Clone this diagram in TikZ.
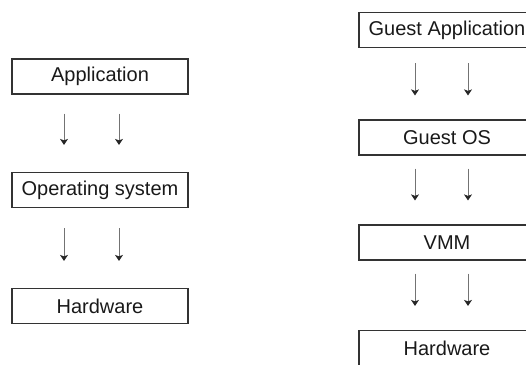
\documentclass[tikz,border=0pt]{standalone}
\usepackage{fontspec}
\setmainfont{Liberation Sans}
\usetikzlibrary{arrows.meta,calc}
\begin{document}
\begin{tikzpicture}[x=1pt,y=-1pt,
  layerbox/.style={draw=black!80,line width=1.2pt,minimum width=176pt,minimum height=35pt,inner sep=0pt,
    font=\fontsize{20}{24}\selectfont,text=black!90},
  arr/.style={draw=black!55,line width=0.9pt,-{Stealth[length=6pt,width=8pt,inset=1.5pt,black!85]}}]
\useasboundingbox (0,0) rectangle (526,364);
\clip (0,0) rectangle (526,364);
% left stack
\node[layerbox] (app) at (100,76.5) {Application};
\node[layerbox] (os) at (100,190) {Operating system};
\node[layerbox] (hw) at (100,306) {Hardware};
% right stack
\node[layerbox] (gapp) at (447,30) {Guest Application};
\node[layerbox] (gos) at (447,137.5) {Guest OS};
\node[layerbox] (vmm) at (447,242.5) {VMM};
\node[layerbox] (rhw) at (447,348) {Hardware};
% left arrows
\foreach \dx in {-36,19}{
  \draw[arr] ([xshift=\dx pt,yshift=-19pt]app.south) -- ([xshift=\dx pt,yshift=27pt]os.north);
  \draw[arr] ([xshift=\dx pt,yshift=-20pt]os.south) -- ([xshift=\dx pt,yshift=27pt]hw.north);
}
% right arrows
\foreach \dx in {-32,21}{
  \draw[arr] ([xshift=\dx pt,yshift=-15pt]gapp.south) -- ([xshift=\dx pt,yshift=24pt]gos.north);
  \draw[arr] ([xshift=\dx pt,yshift=-13pt]gos.south) -- ([xshift=\dx pt,yshift=24pt]vmm.north);
  \draw[arr] ([xshift=\dx pt,yshift=-13pt]vmm.south) -- ([xshift=\dx pt,yshift=24pt]rhw.north);
}
\end{tikzpicture}
\end{document}
